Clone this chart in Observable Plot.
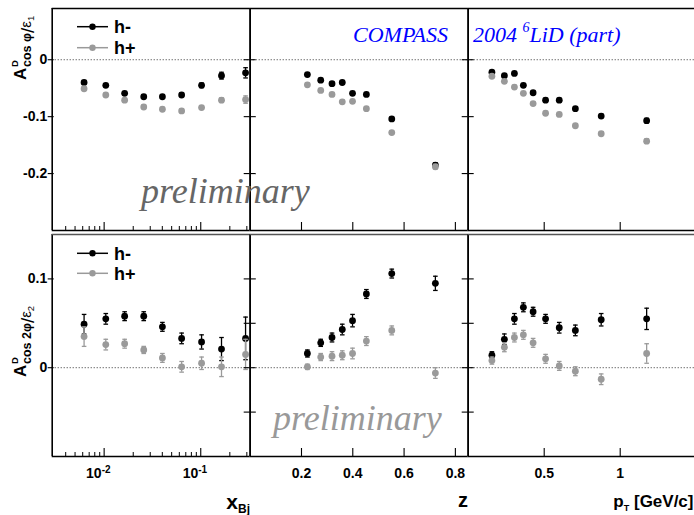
<!DOCTYPE html>
<html><head><meta charset="utf-8">
<script src="https://cdn.jsdelivr.net/npm/d3@7"></script>
<script src="https://cdn.jsdelivr.net/npm/@observablehq/plot@0.6"></script>
<style>
html,body{margin:0;padding:0;background:#fff;overflow:hidden}
#fig{position:relative;width:694px;height:515px;overflow:hidden;background:#fff}
#fig svg{position:absolute;left:0;top:0}
</style></head><body><div id="fig"></div>
<script>
// ---------- data ----------
const xBj = [0.0062, 0.0104, 0.0163, 0.0257, 0.0401, 0.0634, 0.102, 0.164, 0.291];
const zBins = [0.223, 0.275, 0.319, 0.359, 0.399, 0.453, 0.552, 0.722];
const pTBins = [0.156, 0.238, 0.304, 0.363, 0.427, 0.509, 0.599, 0.705, 0.875, 1.174];

// A_cos(phi)/eps1
const cos1_x_hm    = [-0.040, -0.045, -0.059, -0.065, -0.065, -0.062, -0.045, -0.028, -0.023];
const cos1_x_hmErr = [0.003, 0.003, 0.003, 0.003, 0.003, 0.003, 0.004, 0.006, 0.009];
const cos1_x_hp    = [-0.051, -0.062, -0.071, -0.083, -0.087, -0.090, -0.084, -0.071, -0.070];
const cos1_x_hpErr = [0.003, 0.003, 0.003, 0.003, 0.003, 0.003, 0.003, 0.004, 0.0065];
const cos1_z_hm    = [-0.026, -0.036, -0.042, -0.040, -0.059, -0.061, -0.104, -0.185];
const cos1_z_hmErr = [0.003, 0.003, 0.003, 0.003, 0.003, 0.003, 0.003, 0.004];
const cos1_z_hp    = [-0.044, -0.054, -0.061, -0.074, -0.073, -0.086, -0.128, -0.188];
const cos1_z_hpErr = [0.003, 0.003, 0.003, 0.003, 0.003, 0.003, 0.003, 0.004];
const cos1_pT_hm    = [-0.022, -0.028, -0.024, -0.045, -0.058, -0.071, -0.071, -0.086, -0.099, -0.107];
const cos1_pT_hmErr = [0.003, 0.003, 0.003, 0.003, 0.003, 0.003, 0.003, 0.003, 0.003, 0.004];
const cos1_pT_hp    = [-0.029, -0.038, -0.048, -0.059, -0.077, -0.094, -0.096, -0.116, -0.130, -0.143];
const cos1_pT_hpErr = [0.003, 0.003, 0.003, 0.003, 0.003, 0.003, 0.003, 0.003, 0.003, 0.004];

// A_cos(2phi)/eps2
const cos2_x_hm    = [0.049, 0.055, 0.058, 0.058, 0.046, 0.033, 0.029, 0.021, 0.033];
const cos2_x_hmErr = [0.011, 0.006, 0.005, 0.005, 0.005, 0.006, 0.008, 0.013, 0.024];
const cos2_x_hp    = [0.035, 0.026, 0.027, 0.020, 0.011, 0.001, 0.005, 0.001, 0.015];
const cos2_x_hpErr = [0.011, 0.006, 0.005, 0.004, 0.005, 0.006, 0.007, 0.011, 0.017];
const cos2_z_hm    = [0.016, 0.028, 0.034, 0.043, 0.053, 0.083, 0.106, 0.095];
const cos2_z_hmErr = [0.004, 0.004, 0.005, 0.006, 0.007, 0.005, 0.005, 0.008];
const cos2_z_hp    = [0.001, 0.012, 0.013, 0.014, 0.016, 0.030, 0.042, -0.006];
const cos2_z_hpErr = [0.003, 0.004, 0.005, 0.005, 0.006, 0.005, 0.005, 0.006];
const cos2_pT_hm    = [0.014, 0.032, 0.055, 0.068, 0.063, 0.055, 0.045, 0.042, 0.054, 0.055];
const cos2_pT_hmErr = [0.004, 0.006, 0.006, 0.005, 0.005, 0.005, 0.006, 0.006, 0.007, 0.012];
const cos2_pT_hp    = [0.008, 0.023, 0.034, 0.037, 0.028, 0.010, 0.002, -0.004, -0.013, 0.016];
const cos2_pT_hpErr = [0.004, 0.005, 0.005, 0.005, 0.005, 0.005, 0.005, 0.005, 0.006, 0.011];

// ticks
const xBjMajorTicks = [0.01, 0.1];
const xBjMinorTicks = [0.004, 0.005, 0.006, 0.007, 0.008, 0.009, 0.02, 0.03, 0.04, 0.05, 0.06, 0.07, 0.08, 0.09, 0.2, 0.3];
const xBjTickExponents = ["-2", "-1"];
const zTicks = [0.2, 0.4, 0.6, 0.8];
const zTickLabels = ["0.2", "0.4", "0.6", "0.8"];
const pTTicks = [0.5, 1];
const pTTickLabels = ["0.5", "1"];
const cos1Ticks = [0, -0.1, -0.2];
const cos1TickLabels = ["0", "-0.1", "-0.2"];
const cos2Ticks = [0.1, 0.05, 0, -0.05];
const cos2LabelTicks = [0.1, 0];
const cos2TickLabels = ["0.1", "0"];

const seriesNames = ["h-", "h+"];

// ---------- layout ----------
const W = 694, H = 515;
const SANS = "'Liberation Sans', Arial, Helvetica, sans-serif";
const SERIF = "'Liberation Serif', 'Times New Roman', serif";
const BLACK = "#000", GREY = "#9a9a9a";
const cols = [{l: 51.7, r: 249.7}, {l: 249.7, r: 467.7}, {l: 467.7, r: 695.7}];
const rows = [{t: 8, b: 230}, {t: 234, b: 456}];

const colCfg = [
  {type: "log", domain: [0.0029, 0.325], major: xBjMajorTicks, minor: xBjMinorTicks},
  {type: "linear", domain: [0, 0.85], major: zTicks, minor: [], labels: zTickLabels},
  {type: "linear", domain: [0, 1.5], major: pTTicks, minor: [], labels: pTTickLabels}
];
const rowCfg = [
  {domain: [-0.3, 0.09], ticks: cos1Ticks, labelTicks: cos1Ticks, labels: cos1TickLabels, topColor: "#000"},
  {domain: [-0.1, 0.15], ticks: cos2Ticks, labelTicks: cos2LabelTicks, labels: cos2TickLabels, topColor: "#555"}
];

const capShape = {draw(ctx) { ctx.moveTo(-2.3, 0); ctx.lineTo(2.3, 0); }};
const fig = document.getElementById("fig");

function makePanel(ci, ri, xs, hm, hmErr, hp, hpErr) {
  const c = cols[ci], r = rows[ri], cc = colCfg[ci], rc = rowCfg[ri];
  const mR = Math.max(0, W - c.r);
  const fw = (W - mR) - c.l;
  const fh = r.b - r.t;
  const hmData = xs.map((x, i) => ({x, y: hm[i], e: hmErr[i]}));
  const hpData = xs.map((x, i) => ({x, y: hp[i], e: hpErr[i]}));
  const marks = [];
  marks.push(Plot.ruleY([0], {stroke: "#333", strokeWidth: 1, strokeDasharray: "1,2"}));
  for (const [d, col] of [[hmData, BLACK], [hpData, GREY]]) {
    marks.push(Plot.ruleX(d, {x: "x", y1: v => v.y - v.e, y2: v => v.y + v.e, stroke: col, strokeWidth: 1.3}));
    marks.push(Plot.dot(d, {x: "x", y: v => v.y - v.e, symbol: capShape, stroke: col, fill: "none", strokeWidth: 1.3}));
    marks.push(Plot.dot(d, {x: "x", y: v => v.y + v.e, symbol: capShape, stroke: col, fill: "none", strokeWidth: 1.3}));
    marks.push(Plot.dot(d, {x: "x", y: "y", r: 3.4, fill: col, stroke: "none"}));
  }
  // frame
  marks.push(Plot.ruleX([cc.domain[0]], {stroke: "#000", strokeWidth: 1.6}));
  if (ci < 2) marks.push(Plot.ruleX([cc.domain[1]], {stroke: "#000", strokeWidth: 1.6}));
  marks.push(Plot.ruleY([rc.domain[0]], {stroke: "#000", strokeWidth: 1.6}));
  marks.push(Plot.ruleY([rc.domain[1]], {stroke: rc.topColor, strokeWidth: 1.6}));
  // x ticks (inward)
  marks.push(Plot.ruleX(cc.major, {x: d => d, insetTop: fh - 8, stroke: "#000", strokeWidth: 1.1}));
  if (cc.minor.length) marks.push(Plot.ruleX(cc.minor, {x: d => d, insetTop: fh - 4, stroke: "#000", strokeWidth: 1}));
  // y ticks
  if (ci === 0) {
    marks.push(Plot.ruleY(rc.labelTicks, {y: d => d, insetLeft: -4, insetRight: fw - 2, stroke: "#000", strokeWidth: 1.1}));
  } else {
    marks.push(Plot.ruleY(rc.ticks, {y: d => d, insetRight: fw - 6, stroke: "#000", strokeWidth: 1.1}));
  }
  if (ci < 2) marks.push(Plot.ruleY(rc.ticks, {y: d => d, insetLeft: fw - 6, stroke: "#000", strokeWidth: 1.1}));
  // y tick labels
  if (ci === 0) {
    marks.push(Plot.text(rc.labelTicks, {y: d => d, text: (d, i) => rc.labels[i], frameAnchor: "left", dx: -5,
      textAnchor: "end", fontSize: 14, fontWeight: "bold", fontFamily: SANS, fill: "#000"}));
  }
  // x tick labels (bottom row only)
  if (ri === 1) {
    if (cc.type === "log") {
      marks.push(Plot.text(cc.major, {x: d => d, text: () => "10", frameAnchor: "bottom", dy: 21, dx: -2.5,
        textAnchor: "end", fontSize: 14, fontWeight: "bold", fontFamily: SANS, fill: "#000"}));
      marks.push(Plot.text(cc.major, {x: d => d, text: (d, i) => xBjTickExponents[i], frameAnchor: "bottom", dy: 16, dx: -2.5,
        textAnchor: "start", fontSize: 10, fontWeight: "bold", fontFamily: SANS, fill: "#000"}));
    } else {
      marks.push(Plot.text(cc.major, {x: d => d, text: (d, i) => cc.labels[i], frameAnchor: "bottom", dy: 21,
        fontSize: 14, fontWeight: "bold", fontFamily: SANS, fill: "#000"}));
    }
  }
  const svg = Plot.plot({
    width: W, height: H,
    marginLeft: c.l, marginRight: mR, marginTop: r.t, marginBottom: H - r.b,
    style: "background:none;max-width:none;overflow:visible;",
    x: {type: cc.type, domain: cc.domain, range: [c.l, c.r], axis: null},
    y: {type: "linear", domain: rc.domain, range: [r.b, r.t], axis: null},
    marks
  });
  fig.appendChild(svg);
}

makePanel(0, 0, xBj, cos1_x_hm, cos1_x_hmErr, cos1_x_hp, cos1_x_hpErr);
makePanel(1, 0, zBins, cos1_z_hm, cos1_z_hmErr, cos1_z_hp, cos1_z_hpErr);
makePanel(2, 0, pTBins, cos1_pT_hm, cos1_pT_hmErr, cos1_pT_hp, cos1_pT_hpErr);
makePanel(0, 1, xBj, cos2_x_hm, cos2_x_hmErr, cos2_x_hp, cos2_x_hpErr);
makePanel(1, 1, zBins, cos2_z_hm, cos2_z_hmErr, cos2_z_hp, cos2_z_hpErr);
makePanel(2, 1, pTBins, cos2_pT_hm, cos2_pT_hmErr, cos2_pT_hp, cos2_pT_hpErr);

// ---------- annotations ----------
const ov = d3.select(fig).append("svg").attr("width", W).attr("height", H).style("background", "none");

function legend(y0, y1) {
  [[y0, BLACK, seriesNames[0]], [y1, GREY, seriesNames[1]]].forEach(([y, col, name]) => {
    ov.append("line").attr("x1", 77).attr("x2", 108).attr("y1", y).attr("y2", y).attr("stroke", col).attr("stroke-width", 1.5);
    ov.append("circle").attr("cx", 92.5).attr("cy", y).attr("r", 3.2).attr("fill", col);
    ov.append("text").attr("x", 114).attr("y", y + 6.5).attr("font-family", SANS).attr("font-weight", "bold")
      .attr("font-size", 18).attr("fill", "#000").text(name);
  });
}
legend(26.7, 47.7);
legend(253.3, 273.3);

function yTitle(y0, sub, epsSub) {
  const t = ov.append("text").attr("transform", `translate(26,${y0}) rotate(-90)`)
    .attr("font-family", SANS).attr("font-weight", "bold").attr("fill", "#000");
  t.append("tspan").attr("x", 0).attr("y", 0).attr("font-size", 17).text("A");
  t.append("tspan").attr("x", 13).attr("y", -8.5).attr("font-size", 9.5).text("D");
  t.append("tspan").attr("x", 13).attr("y", 5).attr("font-size", 12.5).text(sub);
  t.append("tspan").attr("y", 8).attr("font-size", 19).attr("font-weight", "normal").text("/");
  t.append("tspan").attr("y", 5).attr("font-size", 15).attr("font-weight", "normal").text("ε");
  t.append("tspan").attr("y", 8).attr("font-size", 9.5).attr("font-weight", "normal").text(epsSub);
}
yTitle(80, "cos φ", "1");
yTitle(377, "cos 2φ", "2");

ov.append("text").attr("x", 353).attr("y", 41.7).attr("font-family", SERIF).attr("font-style", "italic")
  .attr("font-size", 22).attr("fill", "#0000ff").text("COMPASS");
const t2 = ov.append("text").attr("x", 473).attr("y", 41.7).attr("font-family", SERIF).attr("font-style", "italic")
  .attr("font-size", 22).attr("fill", "#0000ff");
t2.append("tspan").text("2004 ");
t2.append("tspan").attr("font-size", 14).attr("dy", -10).text("6");
t2.append("tspan").attr("dy", 10).text("LiD (part)");

ov.append("text").attr("x", 141).attr("y", 203).attr("font-family", SERIF).attr("font-style", "italic")
  .attr("font-size", 36).attr("fill", "#666").text("preliminary");
ov.append("text").attr("x", 273).attr("y", 430).attr("font-family", SERIF).attr("font-style", "italic")
  .attr("font-size", 36).attr("fill", "#999").text("preliminary");

const tx = ov.append("text").attr("x", 250).attr("y", 509).attr("text-anchor", "end").attr("font-family", SANS)
  .attr("font-weight", "bold").attr("fill", "#000");
tx.append("tspan").attr("font-size", 21).text("x");
tx.append("tspan").attr("font-size", 12).attr("dy", 4).text("Bj");
ov.append("text").attr("x", 468).attr("y", 506.5).attr("text-anchor", "end").attr("font-family", SANS)
  .attr("font-weight", "bold").attr("font-size", 20).attr("fill", "#000").text("z");
const tp = ov.append("text").attr("x", 693.5).attr("y", 506.5).attr("text-anchor", "end").attr("font-family", SANS)
  .attr("font-weight", "bold").attr("fill", "#000");
tp.append("tspan").attr("font-size", 17).text("p");
tp.append("tspan").attr("font-size", 9).attr("dy", 4).text("T");
tp.append("tspan").attr("font-size", 17).attr("dy", -4).text(" [GeV/c]");
</script></body></html>
